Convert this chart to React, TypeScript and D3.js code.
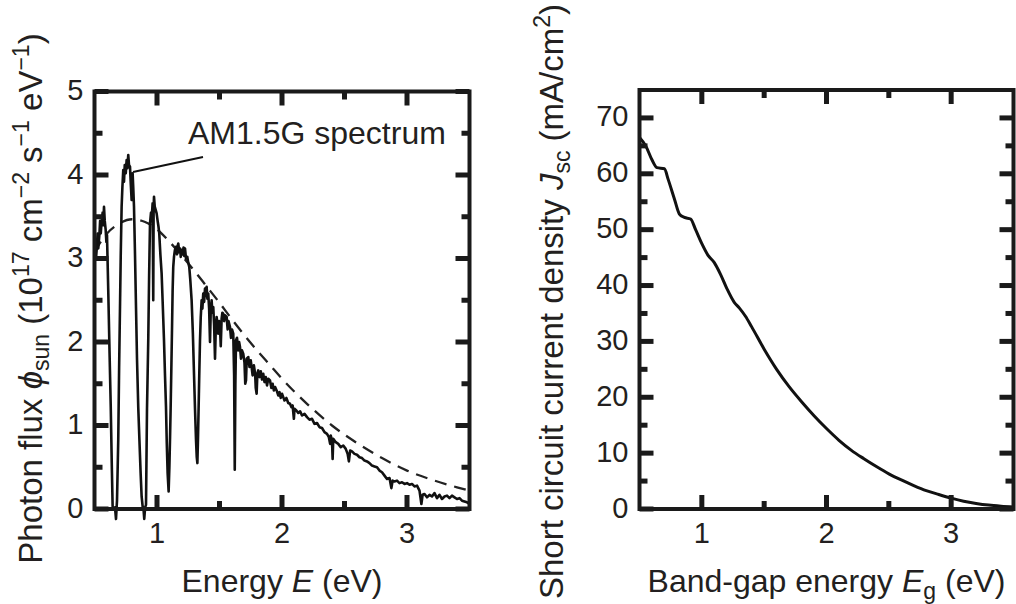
import * as d3 from "d3";

const W = 1016;
const H = 604;
const INK = "#231f20";
const FONT = "'Liberation Sans', Arial, Helvetica, sans-serif";

// AM1.5G spectrum (photon flux, 1e17 cm^-2 s^-1 eV^-1)
const amEnergy = [
  0.5, 0.505, 0.512, 0.517, 0.525, 0.53, 0.539, 0.545, 0.55, 0.557, 0.565, 0.57, 0.576, 0.582, 0.589, 0.595,
  0.6, 0.61, 0.62, 0.63, 0.638, 0.645, 0.655, 0.664, 0.672, 0.68, 0.69, 0.697, 0.704, 0.71, 0.717, 0.723,
  0.73, 0.736, 0.742, 0.75, 0.757, 0.763, 0.77, 0.776, 0.784, 0.79, 0.797, 0.801, 0.805, 0.81, 0.816, 0.824,
  0.832, 0.84, 0.85, 0.86, 0.869, 0.877, 0.885, 0.892, 0.898, 0.905, 0.912, 0.92, 0.93, 0.937, 0.944, 0.952,
  0.958, 0.965, 0.97, 0.973, 0.976, 0.982, 0.99, 0.997, 1.005, 1.012, 1.018, 1.027, 1.037, 1.046, 1.056, 1.064,
  1.072, 1.078, 1.085, 1.093, 1.099, 1.104, 1.109, 1.114, 1.12, 1.125, 1.13, 1.136, 1.143, 1.152, 1.16, 1.165,
  1.17, 1.178, 1.185, 1.19, 1.197, 1.205, 1.212, 1.218, 1.224, 1.232, 1.242, 1.25, 1.258, 1.266, 1.277, 1.287,
  1.296, 1.304, 1.312, 1.318, 1.323, 1.328, 1.333, 1.338, 1.344, 1.35, 1.357, 1.363, 1.37, 1.377, 1.384, 1.39,
  1.397, 1.403, 1.41, 1.417, 1.424, 1.43, 1.437, 1.443, 1.45, 1.457, 1.464, 1.47, 1.477, 1.484, 1.49, 1.497,
  1.504, 1.51, 1.517, 1.523, 1.53, 1.537, 1.545, 1.557, 1.565, 1.572, 1.584, 1.592, 1.6, 1.61, 1.617, 1.622,
  1.627, 1.632, 1.64, 1.65, 1.657, 1.664, 1.672, 1.68, 1.69, 1.7, 1.706, 1.712, 1.718, 1.73, 1.74, 1.75,
  1.757, 1.765, 1.775, 1.785, 1.79, 1.797, 1.803, 1.81, 1.82, 1.83, 1.84, 1.85, 1.86, 1.87, 1.88, 1.89,
  1.904, 1.915, 1.925, 1.935, 1.945, 1.957, 1.97, 1.98, 1.99, 2.0, 2.01, 2.02, 2.035, 2.05, 2.064, 2.075,
  2.085, 2.095, 2.1, 2.115, 2.13, 2.145, 2.16, 2.18, 2.2, 2.22, 2.24, 2.26, 2.28, 2.3, 2.32, 2.34,
  2.36, 2.375, 2.385, 2.39, 2.4, 2.405, 2.41, 2.43, 2.45, 2.47, 2.49, 2.51, 2.525, 2.535, 2.545, 2.56,
  2.58, 2.6, 2.62, 2.64, 2.66, 2.68, 2.7, 2.72, 2.74, 2.76, 2.78, 2.8, 2.82, 2.84, 2.86, 2.875,
  2.885, 2.9, 2.92, 2.94, 2.96, 2.98, 3.0, 3.02, 3.04, 3.06, 3.08, 3.1, 3.115, 3.125, 3.14, 3.16,
  3.18, 3.2, 3.22, 3.24, 3.26, 3.28, 3.3, 3.32, 3.34, 3.36, 3.38, 3.4, 3.42, 3.44, 3.46, 3.48, 3.5,
];
const amFlux = [
  2.95, 3.15, 3.0, 3.1, 3.3, 3.12, 3.28, 3.45, 3.3, 3.44, 3.55, 3.4, 3.62, 3.45, 3.35, 3.2,
  3.28, 2.62, 1.9, 1.22, 0.55, 0.03, 0.0, 0.02, -0.12, 0.1, 0.83, 1.7, 2.42, 3.05, 3.62, 3.85,
  4.06, 3.92, 4.12, 4.02, 4.18, 4.08, 4.24, 4.12, 4.1, 3.9, 3.7, 3.95, 4.02, 3.85, 3.62, 3.05,
  2.42, 1.8, 1.22, 0.8, 0.43, 0.15, 0.03, 0.0, -0.12, 0.02, 0.05, 1.2, 2.02, 2.8, 3.42, 3.55,
  3.5, 3.66, 2.5, 3.6, 3.74, 3.62, 3.58, 3.54, 3.45, 3.38, 3.3, 3.05, 2.82, 2.45, 2.02, 1.6,
  1.22, 0.8, 0.43, 0.21, 0.5, 0.83, 1.2, 1.62, 2.15, 2.62, 2.9, 3.02, 3.1, 3.14, 3.05, 3.15,
  3.18, 3.08, 3.12, 3.02, 3.1, 3.05, 3.13, 3.03, 3.12, 3.0, 3.02, 2.95, 2.9, 2.75, 2.5, 2.1,
  1.62, 1.2, 0.83, 0.62, 0.55, 0.85, 1.22, 1.6, 2.02, 2.3, 2.5, 2.4, 2.58, 2.48, 2.64, 2.55,
  2.66, 2.52, 2.58, 2.4, 2.0, 2.38, 2.5, 2.35, 2.42, 2.2, 1.8, 2.15, 2.3, 2.22, 2.1, 2.25,
  2.18, 1.95, 2.28, 2.35, 2.34, 2.25, 2.32, 2.3, 2.15, 2.25, 2.18, 2.05, 2.15, 2.1, 1.6, 0.47,
  1.5, 2.02, 2.05, 1.9, 2.0, 1.94, 1.8, 1.9, 1.86, 1.75, 1.5, 1.54, 1.8, 1.82, 1.7, 1.78,
  1.7, 1.6, 1.72, 1.62, 1.45, 1.38, 1.62, 1.66, 1.58, 1.65, 1.55, 1.62, 1.52, 1.58, 1.48, 1.56,
  1.54, 1.45, 1.5, 1.42, 1.46, 1.42, 1.36, 1.4, 1.33, 1.38, 1.34, 1.3, 1.33, 1.27, 1.26, 1.22,
  1.24, 1.08, 1.2, 1.18, 1.15, 1.17, 1.12, 1.14, 1.1, 1.07, 1.08, 1.02, 1.03, 0.98, 0.97, 0.92,
  0.9, 0.86, 0.78, 0.88, 0.82, 0.6, 0.84, 0.8, 0.78, 0.74, 0.76, 0.72, 0.66, 0.57, 0.7, 0.69,
  0.66, 0.65, 0.62, 0.61, 0.58, 0.57, 0.55, 0.52, 0.51, 0.5, 0.46, 0.44, 0.4, 0.36, 0.37, 0.25,
  0.34, 0.33, 0.34, 0.31, 0.32, 0.3, 0.31, 0.29, 0.3, 0.27, 0.28, 0.22, 0.06, 0.17, 0.18, 0.14,
  0.17, 0.15, 0.19, 0.13, 0.17, 0.12, 0.15, 0.16, 0.13, 0.16, 0.14, 0.12, 0.13, 0.1, 0.09, 0.08, 0.06,
];

// dashed reference curve
const refEnergy = [0.5, 0.6, 0.7, 0.8, 0.9, 1.0, 1.1, 1.2, 1.3, 1.4, 1.5, 1.6, 1.7, 1.8, 1.9, 2.0, 2.2, 2.4, 2.6, 2.8, 3.0, 3.2, 3.4, 3.5];
const refFlux = [3.08, 3.3, 3.42, 3.47, 3.44, 3.35, 3.2, 3.03, 2.85, 2.66, 2.47, 2.27, 2.08, 1.9, 1.73, 1.56, 1.26, 1.0, 0.79, 0.61, 0.46, 0.35, 0.26, 0.22];

// short-circuit current density vs band gap (mA/cm^2)
const gapEnergy = [
  0.5, 0.55, 0.6, 0.64, 0.7, 0.73, 0.78, 0.82, 0.86, 0.91, 0.95, 1.0, 1.05, 1.1, 1.15, 1.2, 1.26, 1.3, 1.35, 1.4,
  1.5, 1.6, 1.7, 1.8, 1.9, 2.0, 2.1, 2.2, 2.3, 2.4, 2.5, 2.6, 2.7, 2.8, 2.9, 3.0, 3.1, 3.2, 3.3, 3.4, 3.5,
];
const jsc = [
  66.5, 65.0, 62.5, 61.1, 60.9, 59.0, 55.5, 52.8, 52.2, 51.9, 50.0, 47.5, 45.4, 44.1, 42.0, 39.5, 37.0, 36.0, 34.5, 32.6,
  28.6, 25.0, 21.9, 19.2, 16.7, 14.4, 12.3, 10.5, 9.0, 7.6, 6.3, 5.2, 4.2, 3.3, 2.6, 1.95, 1.4, 1.0, 0.7, 0.5, 0.35,
];

const energyTicks = [1, 2, 3];
const energyMinor = [1.5, 2.5];
const fluxTicks = [0, 1, 2, 3, 4, 5];
const fluxMinor = [0.5, 1.5, 2.5, 3.5, 4.5];
const jscTicks = [0, 10, 20, 30, 40, 50, 60, 70];
const jscMinor = [5, 15, 25, 35, 45, 55, 65];

const TICK_FS = 29;
const XTITLE_FS = 32;
const YTITLE_FS = 33;
const SCRIPT_FS = 23;

type Lin = d3.ScaleLinear<number, number>;

// box with inward ticks on all four sides
const Frame = (props: { sx: Lin; sy: Lin; xt: number[]; xm: number[]; yt: number[]; ym: number[] }) => {
  const { sx, sy, xt, xm, yt, ym } = props;
  const [x0, x1] = sx.range();
  const [y0, y1] = sy.range();
  const MAJ = 14;
  const MIN = 8;
  const T = 5;
  const marks: { x: number; y: number; w: number; h: number }[] = [];
  xt.concat(xm).forEach((t) => {
    const len = xt.includes(t) ? MAJ : MIN;
    marks.push({ x: sx(t) - T / 2, y: y0 - len, w: T, h: len });
    marks.push({ x: sx(t) - T / 2, y: y1, w: T, h: len });
  });
  yt.concat(ym).forEach((t) => {
    const len = yt.includes(t) ? MAJ : MIN;
    marks.push({ x: x0, y: sy(t) - T / 2, w: len, h: T });
    marks.push({ x: x1 - len, y: sy(t) - T / 2, w: len, h: T });
  });
  return (
    <g>
      {marks.map((m, i) => (
        <rect key={i} x={m.x} y={m.y} width={m.w} height={m.h} fill="#1a1a1a" />
      ))}
      <rect x={x0} y={y1} width={x1 - x0} height={y0 - y1} fill="none" stroke="#1a1a1a" strokeWidth={4} />
      {xt.map((t) => (
        <text key={"xl" + t} x={sx(t)} y={y0 + 34} textAnchor="middle" fontSize={TICK_FS} fill={INK}>
          {t}
        </text>
      ))}
      {yt.map((t) => (
        <text key={"yl" + t} x={x0 - 11} y={sy(t) + 8.5} textAnchor="end" fontSize={TICK_FS} fill={INK}>
          {t}
        </text>
      ))}
    </g>
  );
};

const App = () => {
  // left panel: photon flux
  const xL = d3.scaleLinear().domain([0.5, 3.5]).range([94.5, 469.5]);
  const yL = d3.scaleLinear().domain([0, 5]).range([509, 91.5]);
  // right panel: Jsc
  const xR = d3.scaleLinear().domain([0.5, 3.5]).range([639.5, 1013.5]);
  const yR = d3.scaleLinear().domain([0, 75]).range([509, 90]);

  const spectrumPath = d3
    .line<number>()
    .x((_, i) => xL(amEnergy[i]))
    .y((d) => yL(d))(amFlux);
  const refPath = d3
    .line<number>()
    .curve(d3.curveMonotoneX)
    .x((_, i) => xL(refEnergy[i]))
    .y((d) => yL(d))(refFlux);
  const jscPath = d3
    .line<number>()
    .curve(d3.curveMonotoneX)
    .x((_, i) => xR(gapEnergy[i]))
    .y((d) => yR(d))(jsc);

  const sub = 7;
  const sup = 13;

  return (
    <svg
      width={W}
      height={H}
      style={{ position: "absolute", left: 0, top: 0, background: "#fff" }}
      fontFamily={FONT}
    >
      <rect width={W} height={H} fill="#fff" />

      {/* left panel */}
      <path d={refPath ?? ""} fill="none" stroke="#222" strokeWidth={2.3} strokeDasharray="12 8" />
      <path d={spectrumPath ?? ""} fill="none" stroke="#111" strokeWidth={2.6} strokeLinejoin="round" />
      <line x1={133} y1={172} x2={203} y2={157} stroke="#111" strokeWidth={2} />
      <text x={188} y={144} fontSize={32} fill={INK}>
        AM1.5G spectrum
      </text>
      <Frame sx={xL} sy={yL} xt={energyTicks} xm={energyMinor} yt={fluxTicks} ym={fluxMinor} />
      <text x={xL(2)} y={592} textAnchor="middle" fontSize={XTITLE_FS} fill={INK}>
        Energy <tspan fontStyle="italic">E</tspan> (eV)
      </text>
      <text transform="translate(42,298.5) rotate(-90)" textAnchor="middle" fontSize={YTITLE_FS} fill={INK}>
        Photon flux <tspan fontStyle="italic">ϕ</tspan>
        <tspan dy={sub} fontSize={SCRIPT_FS}>sun</tspan>
        <tspan dy={-sub}>{" (10"}</tspan>
        <tspan dy={-sup} fontSize={SCRIPT_FS}>17</tspan>
        <tspan dy={sup}>{" cm"}</tspan>
        <tspan dy={-sup} fontSize={SCRIPT_FS}>−2</tspan>
        <tspan dy={sup}>{" s"}</tspan>
        <tspan dy={-sup} fontSize={SCRIPT_FS}>−1</tspan>
        <tspan dy={sup}>{" eV"}</tspan>
        <tspan dy={-sup} fontSize={SCRIPT_FS}>−1</tspan>
        <tspan dy={sup}>)</tspan>
      </text>

      {/* right panel */}
      <path d={jscPath ?? ""} fill="none" stroke="#111" strokeWidth={3} />
      <Frame sx={xR} sy={yR} xt={energyTicks} xm={energyMinor} yt={jscTicks} ym={jscMinor} />
      <text x={xR(2)} y={592} textAnchor="middle" fontSize={XTITLE_FS} fill={INK}>
        Band-gap energy <tspan fontStyle="italic">E</tspan>
        <tspan dy={sub} fontSize={SCRIPT_FS}>g</tspan>
        <tspan dy={-sub}>{" (eV)"}</tspan>
      </text>
      <text transform="translate(563,301.5) rotate(-90)" textAnchor="middle" fontSize={YTITLE_FS} fill={INK}>
        Short circuit current density <tspan fontStyle="italic">J</tspan>
        <tspan dy={sub} fontSize={SCRIPT_FS}>sc</tspan>
        <tspan dy={-sub}>{" (mA/cm"}</tspan>
        <tspan dy={-sup} fontSize={SCRIPT_FS}>2</tspan>
        <tspan dy={sup}>)</tspan>
      </text>
    </svg>
  );
};

export default App;
